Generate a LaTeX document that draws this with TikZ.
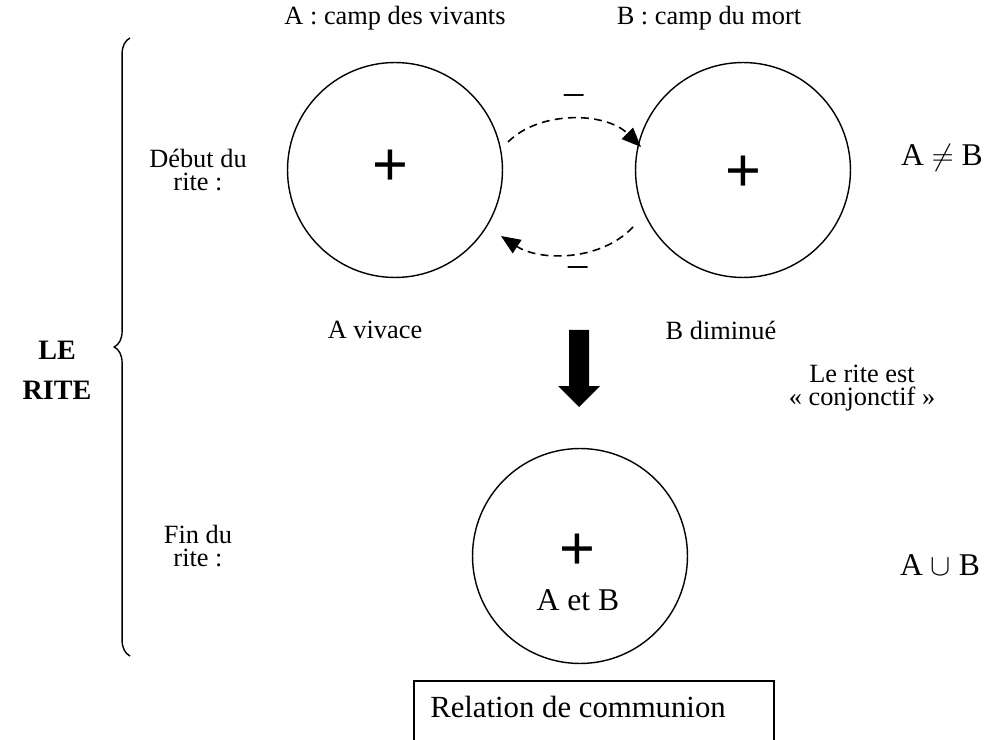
\documentclass[tikz,border=0pt]{standalone}
\usepackage{fontspec}
\setmainfont{Liberation Serif}
\newfontfamily\plusfont{Liberation Sans}
\usetikzlibrary{positioning,arrows.meta,decorations.pathreplacing}

\begin{document}
\begin{tikzpicture}[x=0.02cm, y=-0.02cm, line width=0.8pt,
  ring/.style = {draw, circle, minimum size=4.3cm, inner sep=0pt},
  lbl/.style = {font=\fontsize{15}{13.5}\selectfont, align=center},
  big/.style = {font=\fontsize{18}{21}\selectfont},
  plus/.style = {font=\plusfont\fontsize{35}{35}\selectfont, inner sep=0pt},
  minus/.style = {font=\fontsize{22}{22}\selectfont},
  flow/.style = {line width=0.9pt, dash pattern=on 4.5pt off 3pt, -{Triangle[length=11pt,width=9pt]}}]
\useasboundingbox (0,0) rectangle (992,740);

% the two camps
\node[lbl] (campA) at (395,18) {A : camp des vivants};
\node[lbl] (campB) at (709,18) {B : camp du mort};
\node[ring] (A) at (395,170) {};
\node[ring] (B) at (743,170) {};
\node[plus] (pA) at (390,168) {+};
\node[plus] (pB) at (743,174) {+};
\node[lbl] (vivace) at (375,330) {A vivace};
\node[lbl] (diminue) at (721,330) {B diminué};

% exchanges
\coordinate (a1) at (508,142);
\coordinate (b1) at (641,147);
\coordinate (b2) at (633,227);
\coordinate (a2) at (501,236);
\draw[flow] (a1) .. controls +(32,-32) and +(-35,-35) .. (b1);
\draw[flow] (b2) .. controls +(-33,35) and +(38,25) .. (a2);
\node[minus] (m1) at (574,100) {–};
\node[minus] (m2) at (578,272) {–};

% end of the rite
\fill (569,330) -- (589,330) -- (589,386) -- (600,386) -- (579,407)
  -- (558,386) -- (569,386) -- cycle;
\node[ring] (C) at (580,556) {};
\node[plus] (pC) at (577,552) {+};
\node[big] (AB) at (578,600) {A et B};

% left side
\draw[decorate, decoration={brace, amplitude=9pt}] (130,656) -- (130,38);
\node[font=\bfseries\fontsize{16}{16}\selectfont] (le) at (57,350) {LE};
\node[font=\bfseries\fontsize{16}{16}\selectfont] (rite) at (57,390) {RITE};
\node[lbl] (debut) at (198,170) {Début du\\rite :};
\node[lbl] (fin) at (198,546) {Fin du\\rite :};

% right side
\node[big] (neq) at (942,158) {A $\neq$ B};
\node[lbl] (conj) at (862,388) {Le rite est\\« conjonctif »};
\node[big] (cup) at (940,565) {A $\cup$ B};

% caption
\node[font=\fontsize{17.5}{17.5}\selectfont] (rel) at (578,707) {Relation de communion};
\draw (414,745) |- (774,681) -- (774,745);
\end{tikzpicture}
\end{document}
